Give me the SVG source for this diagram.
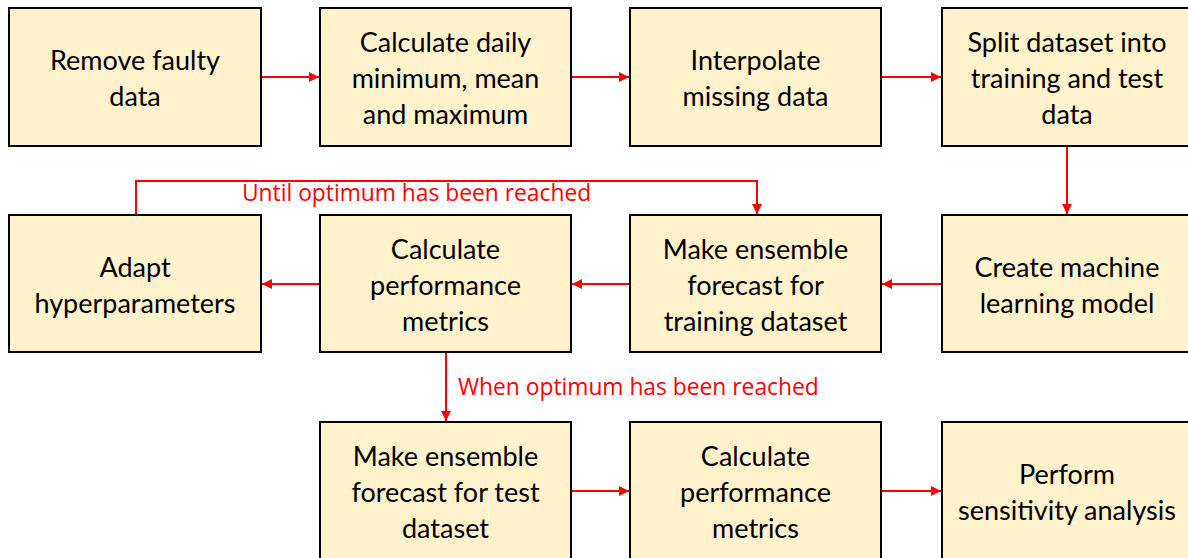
<svg xmlns="http://www.w3.org/2000/svg" width="1188" height="558" viewBox="0 0 1188 558">
<defs>
<style>
.box{fill:#FFF2CC;stroke:#000;stroke-width:2}
.t{font-family:Lato,"Open Sans",sans-serif;font-size:27px;fill:#000;text-anchor:middle}
.c{stroke:#FF0000;stroke-width:2;fill:none}
.lbl{font-family:"Open Sans","Liberation Sans",sans-serif;font-size:22.8px;fill:#FF0000}
</style>
<marker id="ah" viewBox="0 0 10 10" refX="10" refY="5" markerWidth="5" markerHeight="5" orient="auto" markerUnits="strokeWidth">
<path d="M0,0 L10,5 L0,10 z" fill="#FF0000"/>
</marker>
</defs>
<rect width="1188" height="558" fill="#fff"/>
<g id="n1"><rect class="box" x="9" y="8" width="252" height="138"/><text class="t" x="135" y="70">Remove faulty</text><text class="t" x="135" y="106">data</text></g>
<g id="n2"><rect class="box" x="320" y="8" width="251" height="138"/><text class="t" x="445.5" y="52">Calculate daily</text><text class="t" x="445.5" y="88">minimum, mean</text><text class="t" x="445.5" y="124">and maximum</text></g>
<g id="n3"><rect class="box" x="630" y="8" width="251" height="138"/><text class="t" x="755.5" y="70">Interpolate</text><text class="t" x="755.5" y="106">missing data</text></g>
<g id="n4"><rect class="box" x="942" y="8" width="252" height="138"/><text class="t" x="1067" y="52">Split dataset into</text><text class="t" x="1067" y="88">training and test</text><text class="t" x="1067" y="124">data</text></g>
<g id="n5"><rect class="box" x="9" y="215" width="252" height="137"/><text class="t" x="135" y="277">Adapt</text><text class="t" x="135" y="313">hyperparameters</text></g>
<g id="n6"><rect class="box" x="320" y="215" width="251" height="137"/><text class="t" x="445.5" y="259">Calculate</text><text class="t" x="445.5" y="295">performance</text><text class="t" x="445.5" y="331">metrics</text></g>
<g id="n7"><rect class="box" x="630" y="215" width="251" height="137"/><text class="t" x="755.5" y="259">Make ensemble</text><text class="t" x="755.5" y="295">forecast for</text><text class="t" x="755.5" y="331">training dataset</text></g>
<g id="n8"><rect class="box" x="942" y="215" width="252" height="137"/><text class="t" x="1067" y="277">Create machine</text><text class="t" x="1067" y="313">learning model</text></g>
<g id="n9"><rect class="box" x="320" y="422" width="251" height="140"/><text class="t" x="445.5" y="466">Make ensemble</text><text class="t" x="445.5" y="502">forecast for test</text><text class="t" x="445.5" y="538">dataset</text></g>
<g id="n10"><rect class="box" x="630" y="422" width="251" height="140"/><text class="t" x="755.5" y="466">Calculate</text><text class="t" x="755.5" y="502">performance</text><text class="t" x="755.5" y="538">metrics</text></g>
<g id="n11"><rect class="box" x="942" y="422" width="252" height="140"/><text class="t" x="1067" y="484">Perform</text><text class="t" x="1067" y="520">sensitivity analysis</text></g>
<g id="connectors">
<line class="c" x1="262" y1="77" x2="319" y2="77" marker-end="url(#ah)"/>
<line class="c" x1="572" y1="77" x2="629" y2="77" marker-end="url(#ah)"/>
<line class="c" x1="882" y1="77" x2="941" y2="77" marker-end="url(#ah)"/>
<line class="c" x1="1067" y1="147" x2="1067" y2="214" marker-end="url(#ah)"/>
<line class="c" x1="941" y1="284" x2="882" y2="284" marker-end="url(#ah)"/>
<line class="c" x1="629" y1="284" x2="572" y2="284" marker-end="url(#ah)"/>
<line class="c" x1="319" y1="284" x2="262" y2="284" marker-end="url(#ah)"/>
<polyline class="c" points="136,214 136,181 757,181 757,214" marker-end="url(#ah)"/>
<line class="c" x1="446" y1="353" x2="446" y2="421" marker-end="url(#ah)"/>
<line class="c" x1="572" y1="491" x2="629" y2="491" marker-end="url(#ah)"/>
<line class="c" x1="882" y1="491" x2="941" y2="491" marker-end="url(#ah)"/>
<text class="lbl" x="242" y="201">Until optimum has been reached</text>
<text class="lbl" x="458" y="395">When optimum has been reached</text>
</g>
</svg>
